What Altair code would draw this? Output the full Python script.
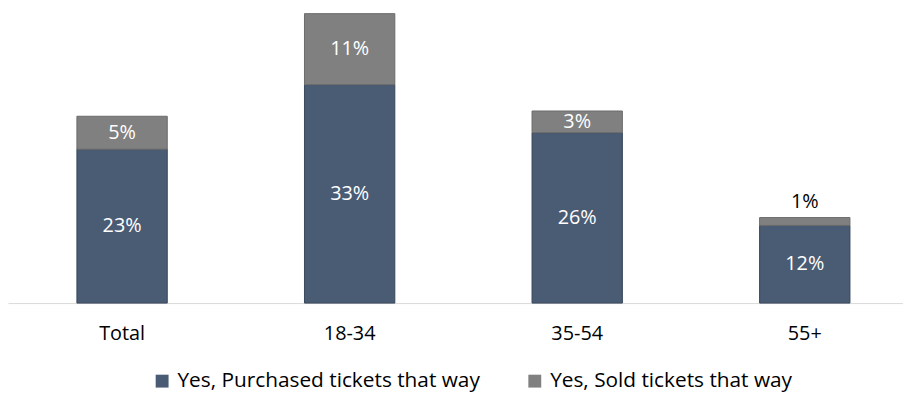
import altair as alt
import pandas as pd

categories = ["Total", "18-34", "35-54", "55+"]
series = ["Yes, Purchased tickets that way", "Yes, Sold tickets that way"]
purchased = [0.234, 0.332, 0.259, 0.118]
sold = [0.050, 0.108, 0.033, 0.012]

rows = []
for i, c in enumerate(categories):
    rows.append({"cat": c, "series": series[0], "ord": 0, "value": purchased[i]})
    rows.append({"cat": c, "series": series[1], "ord": 1, "value": sold[i]})
df = pd.DataFrame(rows)

FONT = "Open Sans"
colors = ["#4a5b74", "#808080"]
strokes = ["#38465c", "#6a6a6a"]

base = alt.Chart(df).transform_stack(
    stack="value", groupby=["cat"], as_=["y0", "y1"],
    sort=[alt.SortField("ord", order="ascending")]
).transform_calculate(mid="(datum.y0 + datum.y1) / 2")

xscale = alt.Scale(paddingInner=0.603, paddingOuter=0.268, align=0.565)
xenc = alt.X(
    "cat:N", sort=categories, scale=xscale,
    axis=alt.Axis(title=None, labelAngle=0, ticks=False, domainColor="#d9d9d9",
                  domainWidth=1, labelFont=FONT, labelFontSize=20, labelColor="#000000",
                  labelPadding=21),
)
yscale = alt.Scale(domain=[0, 0.446])

bars = base.mark_bar(strokeWidth=1).encode(
    x=xenc,
    y=alt.Y("y1:Q", scale=yscale, axis=None),
    y2="y0:Q",
    color=alt.Color(
        "series:N",
        scale=alt.Scale(domain=series, range=colors),
        legend=alt.Legend(
            title=None, orient="none", legendX=145, legendY=364,
            direction="horizontal", symbolType="square", symbolSize=169,
            symbolStrokeWidth=0, labelFont=FONT, labelFontSize=21,
            labelColor="#000000", columnPadding=44, labelOffset=5,
            labelLimit=400,
        ),
    ),
    stroke=alt.Stroke("series:N", scale=alt.Scale(domain=series, range=strokes), legend=None),
    order=alt.Order("ord:Q"),
)

inside = base.transform_filter("datum.value >= 0.02").mark_text(
    font=FONT, fontSize=20, color="#ffffff", baseline="middle"
).encode(
    x=alt.X("cat:N", sort=categories, scale=xscale),
    y=alt.Y("mid:Q", scale=yscale, axis=None),
    text=alt.Text("value:Q", format=".0%"),
)

outside = base.transform_filter("datum.value < 0.02").mark_text(
    font=FONT, fontSize=20, color="#000000", baseline="middle", dy=-16
).encode(
    x=alt.X("cat:N", sort=categories, scale=xscale),
    y=alt.Y("y1:Q", scale=yscale, axis=None),
    text=alt.Text("value:Q", format=".0%"),
)

chart = alt.layer(bars, inside, outside).properties(
    width=903, height=296, padding=0
).configure_view(stroke=None)

chart.save("out.html", embed_options={"renderer": "svg", "actions": False})
